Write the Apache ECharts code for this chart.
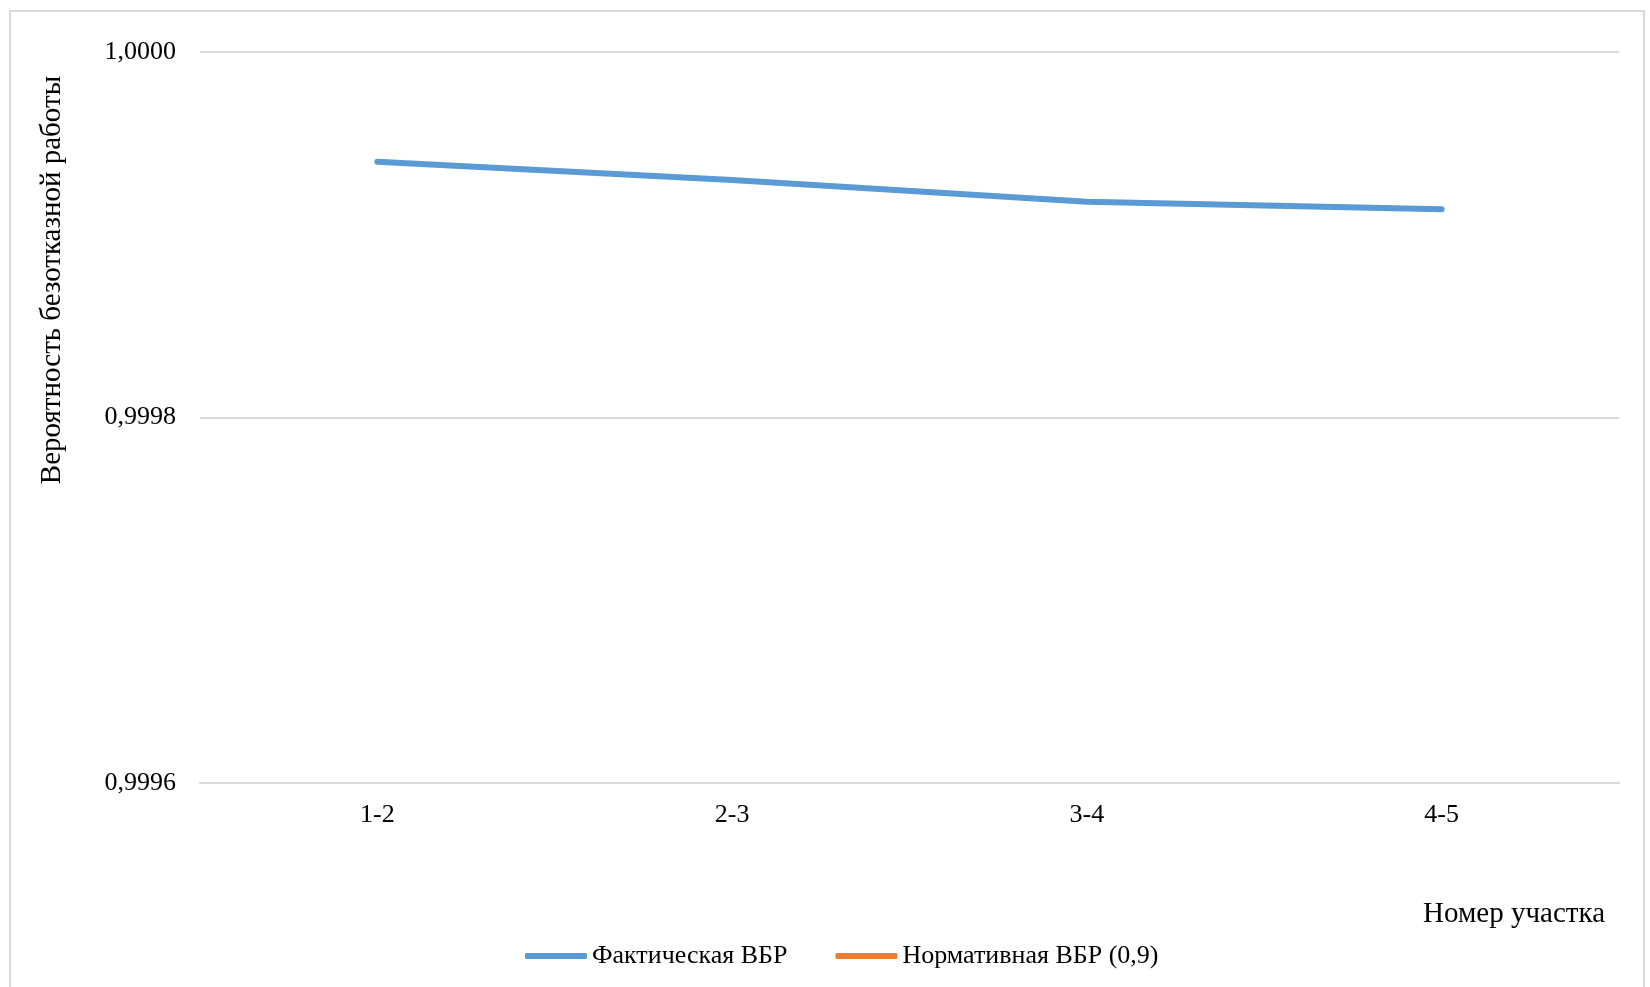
<!DOCTYPE html>
<html>
<head>
<meta charset="utf-8">
<script src="https://cdn.jsdelivr.net/npm/echarts@6/dist/echarts.min.js"></script>
<style>
html,body{margin:0;padding:0;background:#fff;}
#frame{position:absolute;left:9px;top:10px;width:1636px;height:990px;border:2px solid #d9d9d9;box-sizing:border-box;}
#chart{position:absolute;left:0;top:0;width:1650px;height:987px;}
</style>
</head>
<body>
<div id="frame"></div>
<div id="chart"></div>
<script>
var categories = ['1-2', '2-3', '3-4', '4-5'];
var actualValues = [0.99994, 0.99993, 0.999918, 0.999914];
var normativeValues = [0.9, 0.9, 0.9, 0.9];
var seriesNames = ['Фактическая ВБР', 'Нормативная ВБР (0,9)'];
var yAxisTitle = 'Вероятность безотказной работы';
var xAxisTitle = 'Номер участка';

var FONT = "'Liberation Serif', 'Times New Roman', serif";
var chart = echarts.init(document.getElementById('chart'), null, {renderer: 'canvas'});
chart.setOption({
  animation: false,
  backgroundColor: 'transparent',
  grid: {left: 200, right: 31, top: 52, bottom: 204, containLabel: false},
  xAxis: {
    type: 'category',
    data: categories,
    boundaryGap: true,
    axisLine: {show: true, lineStyle: {color: '#d9d9d9', width: 2}},
    axisTick: {show: false},
    axisLabel: {color: '#000', fontFamily: FONT, fontSize: 26, margin: 19}
  },
  yAxis: {
    type: 'value',
    min: 0.9996,
    max: 1.0,
    interval: 0.0002,
    axisLine: {show: false},
    axisTick: {show: false},
    splitLine: {lineStyle: {color: '#d9d9d9', width: 2}},
    axisLabel: {
      color: '#000', fontFamily: FONT, fontSize: 26, margin: 24,
      formatter: function (v) { return v.toFixed(4).replace('.', ','); }
    }
  },
  legend: {
    left: 520,
    top: 938,
    itemWidth: 62,
    itemHeight: 6,
    itemGap: 48,
    icon: 'roundRect',
    textStyle: {color: '#000', fontFamily: FONT, fontSize: 26, padding: [0, 0, 0, 0]},
    data: seriesNames
  },
  graphic: [
    {
      type: 'text', x: 52, y: 280, rotation: Math.PI / 2,
      style: {text: yAxisTitle, font: '29px ' + FONT, fill: '#000', textAlign: 'center', textVerticalAlign: 'middle'}
    },
    {
      type: 'text', x: 1605, y: 914,
      style: {text: xAxisTitle, font: '29px ' + FONT, fill: '#000', textAlign: 'right', textVerticalAlign: 'middle'}
    }
  ],
  series: [
    {
      name: seriesNames[0], type: 'line', data: actualValues, symbol: 'none',
      itemStyle: {color: '#5B9BD5'},
      lineStyle: {color: '#5B9BD5', width: 6, cap: 'round', join: 'round'},
      clip: true
    },
    {
      name: seriesNames[1], type: 'line', data: normativeValues, symbol: 'none',
      itemStyle: {color: '#ED7D31'},
      lineStyle: {color: '#ED7D31', width: 6, cap: 'round'},
      clip: true
    }
  ]
});
</script>
</body>
</html>
